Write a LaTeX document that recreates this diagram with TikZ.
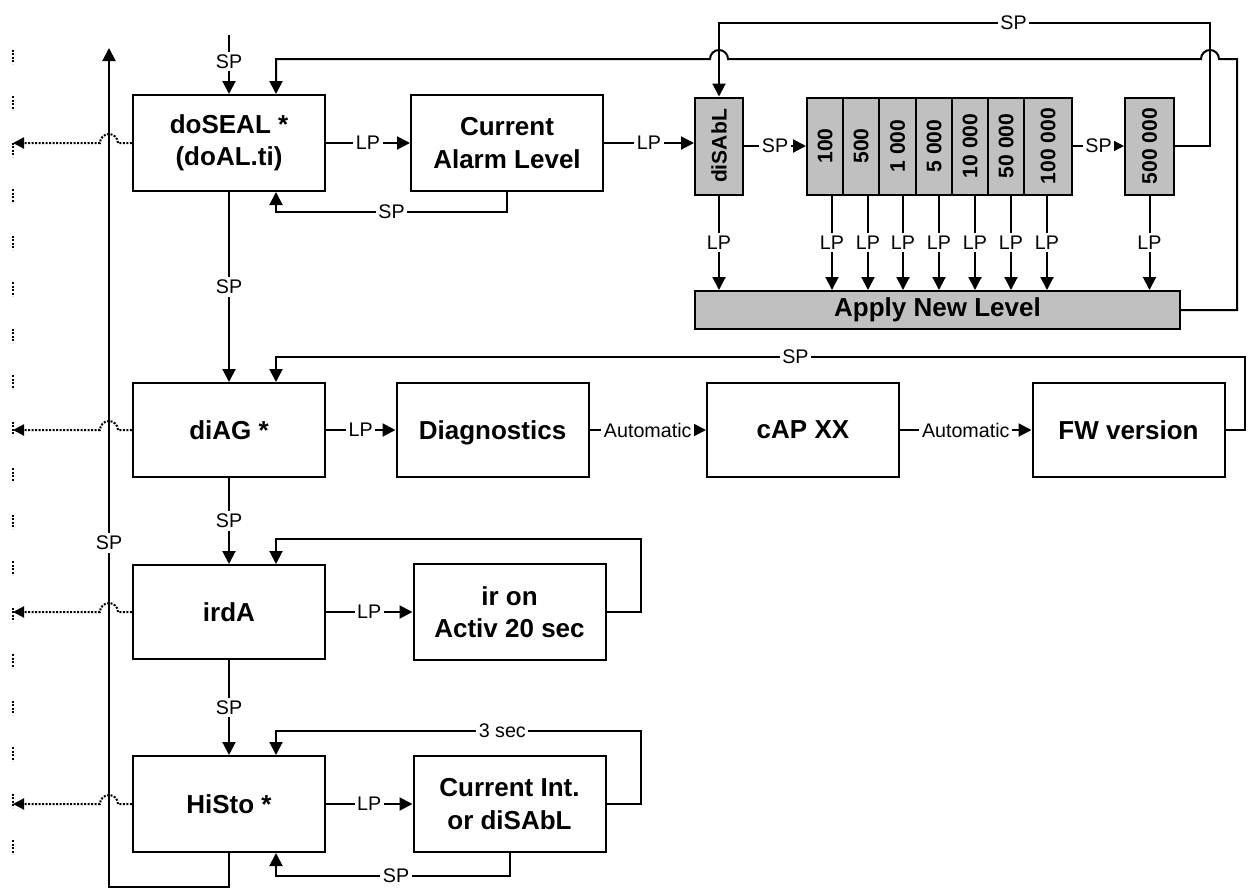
\documentclass[tikz,border=0pt]{standalone}
\usepackage{fontspec}
\setmainfont{Liberation Sans}
\usepackage{tikz, graphicx}
\usetikzlibrary{arrows.meta}
\definecolor{zellgrau}{RGB}{192,192,192}
\newcommand{\boxfont}{\fontsize{14.8}{18.5}\selectfont\bfseries}
\newcommand{\labfont}{\fontsize{11.2}{13}\selectfont}
\newcommand{\zellfont}{\fontsize{12}{14}\selectfont\bfseries}

\begin{document}
\begin{tikzpicture}[x=0.2mm, y=-0.2mm,
			>={Triangle[length=2.6mm,width=2.6mm]},   %Voreinstellung fuer Pfeilspitzen
			line width=0.4mm, font=\labfont,
			block/.style={draw, minimum width=38.4mm, minimum height=19.2mm, align=center, inner sep=2pt, font=\boxfont},
			zelle/.style={draw, fill=zellgrau, minimum height=19.4mm, inner sep=0pt, font=\zellfont},
			lab/.style={fill=white, inner sep=1.5pt, font=\labfont},
			punkte/.style={line width=0.4mm, dash pattern=on 0.4mm off 0.3mm}]
			\useasboundingbox (0,0) rectangle (1248,888);
			%Menuekaesten
			\node[block] (seal) at (229,143) {doSEAL *\\(doAL.ti)};
			\node[block] (cal) at (507,143) {Current\\Alarm Level};
			\node[block, minimum height=18.8mm] (diag) at (229,430) {diAG *};
			\node[block, minimum height=18.8mm, text depth=0pt] (diagn) at (492.5,430) {Diagnostics};
			\node[block, minimum height=18.8mm] (cap) at (803,430) {cAP XX};
			\node[block, minimum height=18.8mm] (fw) at (1128.5,430) {FW version};
			\node[block, minimum height=18.8mm] (irda) at (229,612) {irdA};
			\node[block, minimum height=19.2mm] (iron) at (509.5,612) {ir on\\Activ 20 sec};
			\node[block] (histo) at (229,804) {HiSto *};
			\node[block] (curint) at (509.5,804) {Current Int.\\or diSAbL};
			%Alarmstufen (grau)
			\node[zelle, minimum width=9.6mm] (dis) at (719,146) {\rotatebox{90}{diSAbL}};
			\node[zelle, minimum width=9.8mm] (sev) at (1149.5,146) {\rotatebox{90}{500 000}};
			\node[zelle, minimum width=97mm, minimum height=7.6mm, font=\boxfont] (apply) at (937.5,310) {Apply New Level};
			\foreach \cx/\w/\dx/\t [count=\i] in {825/36/7/100, 861/36/7/500, 897.5/37/5.5/1 000, 934/36/5/5 000, 970/36/5/10 000, 1006/36/5/50 000, 1048/48/-1/100 000}
			{
				\node[zelle, minimum width=\w*0.2mm] (c\i) at (\cx,146) {\rotatebox{90}{\t}};
				\draw[->] ([xshift=\dx*0.2mm]c\i.south) coordinate (t\i) -- (t\i |- apply.north) node[lab, midway] {LP};
			}
			%Zeile doSEAL
			\coordinate (start) at (229,35);
			\draw[->] (start) -- (seal) node[lab, pos=0.45] {SP};
			\draw[->] (seal) -- (cal) node[lab, midway] {LP};
			\draw[->] (cal.south) -- ++(0,20) -| ([xshift=9.4mm]seal.south) node[lab, pos=0.25] {SP};
			\draw[->] (cal.east) -- (cal.east -| dis.west) node[lab, midway] {LP};
			\draw[->] (dis.east) -- (dis.east -| c1.west) node[lab, midway] {SP};
			\draw[->] (c7.east) -- (c7.east -| sev.west) node[lab, midway] {SP};
			\draw[->] (sev.east) -| (1210,23) -| (dis.north) node[lab, pos=0.2] {SP};
			\draw[->] (dis.south) -- (dis.south |- apply.north) node[lab, midway] {LP};
			\draw[->] (sev.south) -- (sev.south |- apply.north) node[lab, midway] {LP};
			% Apply zurueck mit Bruecken
			\draw[->] (apply.east) -| (1237,59) -- (1219,59) arc[start angle=0, end angle=-180, radius=9]
				-- (728,59) arc[start angle=0, end angle=-180, radius=9] -| ([xshift=9.4mm]seal.north);
			%Zeile diAG
			\draw[->] (seal) -- (diag) node[lab, midway] {SP};
			\draw[->] (diag) -- (diagn) node[lab, midway] {LP};
			\draw[->] (diagn) -- (cap) node[lab, midway] {Automatic};
			\draw[->] (cap) -- (fw) node[lab, midway] {Automatic};
			\draw[->] (fw.east) -| (1245,357) -| ([xshift=9.4mm]diag.north) node[lab, pos=0.232] {SP};
			%Zeile irdA
			\draw[->] (diag) -- (irda) node[lab, midway] {SP};
			\draw[->] (irda) -- (iron) node[lab, midway] {LP};
			\draw[->] (iron.east) -| (641,539) -| ([xshift=9.4mm]irda.north);
			%Zeile HiSto
			\draw[->] (irda) -- (histo) node[lab, midway] {SP};
			\draw[->] (histo) -- (curint) node[lab, midway] {LP};
			\draw[->] (curint.east) -| (641,731) -| ([xshift=9.4mm]histo.north) node[lab, pos=0.19] {3 sec};
			\draw[->] (curint.south) -- ++(0,23) -| ([xshift=9.4mm]histo.south) node[lab, pos=0.243] {SP};
			% grosse Schleife links
			\coordinate (back) at (109,48);
			\draw[->] (histo.south) -- ++(0,34) -| (back) node[lab, pos=0.705] {SP};
			%Ausgaenge links (gepunktet)
			\coordinate (aus) at (13,0);
			\coordinate (hop) at (118,0);
			\foreach \n in {seal,diag,irda,histo}
				\draw[punkte, -{Triangle[length=2.2mm,width=2.2mm]}] (\n.west) -- (\n.west -| hop) arc[start angle=0, end angle=-180, radius=9] -- (\n.west -| aus);
			\foreach \k in {1,...,18} \draw[punkte] (13,{3+46.5*\k}) -- ++(0,14);
		\end{tikzpicture}
\end{document}
